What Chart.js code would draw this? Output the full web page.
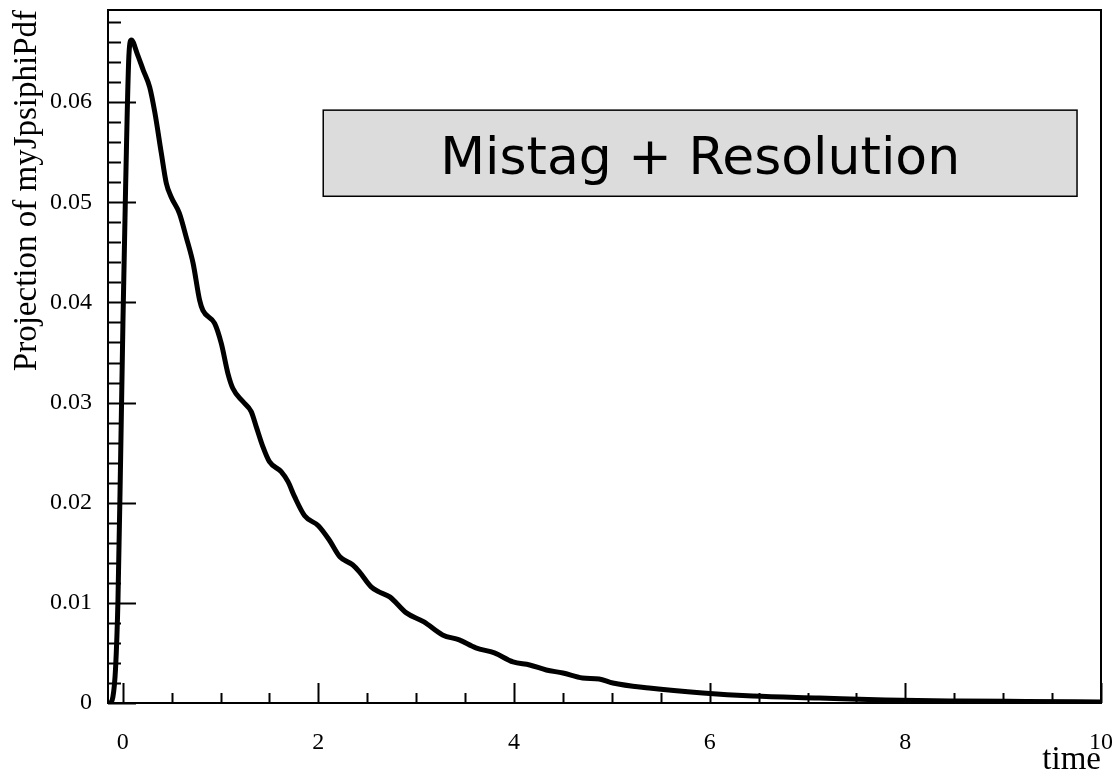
<!DOCTYPE html>
<html>
<head>
<meta charset="utf-8">
<script src="https://cdn.jsdelivr.net/npm/chart.js@4"></script>
<style>
  html, body { margin: 0; padding: 0; background: #ffffff; }
  #wrap { width: 1112px; height: 775px; }
</style>
</head>
<body>
<div id="wrap"><canvas id="pdf"></canvas></div>
<script>
// projected pdf
const times = [
  -0.15, -0.133, -0.10, -0.072, -0.048, -0.02, 0.003, 0.03, 0.065, 0.089,
  0.15, 0.21, 0.276, 0.33, 0.395, 0.446, 0.497, 0.58, 0.65, 0.72,
  0.787, 0.82, 0.94, 1.008, 1.076, 1.127, 1.229, 1.314, 1.365, 1.433,
  1.50, 1.62, 1.69, 1.757, 1.86, 2.0, 2.11, 2.22, 2.35, 2.42,
  2.54, 2.62, 2.73, 2.90, 3.08, 3.27, 3.44, 3.61, 3.80, 3.99,
  4.16, 4.33, 4.50, 4.70, 4.87, 5.01, 5.38, 5.93, 6.44, 7.12,
  7.80, 8.55, 9.23, 10.0
];
const pdfValues = [
  0, 0, 0.0006, 0.0036, 0.0103, 0.025, 0.0382, 0.0515, 0.0649, 0.0662,
  0.0648, 0.0632, 0.0615, 0.0589, 0.0549, 0.0519, 0.0505, 0.0489, 0.0465, 0.0439,
  0.0402, 0.0392, 0.0379, 0.0359, 0.0329, 0.0314, 0.0301, 0.0291, 0.0276, 0.0256,
  0.0241, 0.0231, 0.0221, 0.0206, 0.0187, 0.0177, 0.0163, 0.0146, 0.0138, 0.0131,
  0.0116, 0.0111, 0.0106, 0.0090, 0.0081, 0.0068, 0.0063, 0.0055, 0.0050, 0.0041,
  0.0038, 0.0033, 0.0030, 0.0025, 0.0024, 0.0020, 0.0015, 0.0010, 0.0007, 0.0005,
  0.0003, 0.0002, 0.00015, 0.0001
];

const xTickValues = [0, 2, 4, 6, 8, 10];
const yTickValues = [0, 0.01, 0.02, 0.03, 0.04, 0.05, 0.06];
const xTitle = "time";
const yTitle = "Projection of myJpsiphiPdf";
const boxText = "Mistag + Resolution";

const serif = "'Liberation Serif', 'Times New Roman', serif";

// ROOT style frame: inner ticks on left and bottom, plus the text box
const rootFrame = {
  id: "rootFrame",
  afterDatasetsDraw(chart) {
    const ctx = chart.ctx;
    const { left, right, top, bottom } = chart.chartArea;
    const x = chart.scales.x;
    const y = chart.scales.y;

    ctx.save();
    ctx.strokeStyle = "#000";
    ctx.lineWidth = 2;
    ctx.strokeRect(left, top, right - left, bottom - top);

    // y ticks, minor every 0.002
    for (let i = 0; i * 0.002 <= y.max + 1e-9; i++) {
      const py = Math.round(y.getPixelForValue(i * 0.002)) + 0.5;
      const len = i % 5 === 0 ? 28 : 13;
      ctx.beginPath();
      ctx.moveTo(left, py);
      ctx.lineTo(left + len, py);
      ctx.stroke();
    }
    // x ticks, minor every 0.5
    for (let i = 0; i * 0.5 <= x.max + 1e-9; i++) {
      const px = Math.round(x.getPixelForValue(i * 0.5)) + 0.5;
      const len = i % 4 === 0 ? 20 : 10;
      ctx.beginPath();
      ctx.moveTo(px, bottom);
      ctx.lineTo(px, bottom - len);
      ctx.stroke();
    }

    // text box
    const bx0 = x.getPixelForValue(2.05), bx1 = x.getPixelForValue(9.755);
    const by0 = y.getPixelForValue(0.0592), by1 = y.getPixelForValue(0.0506);
    ctx.fillStyle = "#dcdcdc";
    ctx.fillRect(bx0, by0, bx1 - bx0, by1 - by0);
    ctx.lineWidth = 1.5;
    ctx.strokeRect(bx0, by0, bx1 - bx0, by1 - by0);
    ctx.fillStyle = "#000";
    ctx.font = "52px 'DejaVu Sans', sans-serif";
    ctx.textAlign = "center";
    ctx.textBaseline = "alphabetic";
    ctx.fillText(boxText, (bx0 + bx1) / 2, by0 + 64);
    ctx.restore();
  }
};

// keep the plot frame where the layout padding puts it
const noEdgePad = (s) => {
  s.paddingTop = 0; s.paddingBottom = 0;
  s.paddingLeft = 0; s.paddingRight = 0;
};

new Chart(document.getElementById("pdf"), {
  type: "scatter",
  plugins: [rootFrame],
  data: {
    datasets: [{
      data: times.map((t, i) => ({ x: t, y: pdfValues[i] })),
      showLine: true,
      borderColor: "#000",
      borderWidth: 5,
      pointRadius: 0,
      cubicInterpolationMode: "monotone",
      fill: false
    }]
  },
  options: {
    responsive: true,
    maintainAspectRatio: false,
    animation: false,
    layout: { padding: { top: 10, right: 11, left: 0, bottom: 0 } },
    plugins: {
      legend: { display: false },
      tooltip: { enabled: false }
    },
    scales: {
      x: {
        type: "linear",
        min: -0.15,
        max: 10,
        grid: { display: false },
        border: { display: false },
        afterBuildTicks: (s) => { s.ticks = xTickValues.map(v => ({ value: v })); },
        afterFit: (s) => { s.height = 72; noEdgePad(s); },
        ticks: {
          color: "#000",
          padding: 17,
          maxRotation: 0,
          autoSkip: false,
          font: { family: serif, size: 24 },
          callback: (v) => String(v)
        },
        title: {
          display: true,
          text: xTitle,
          align: "end",
          color: "#000",
          padding: 0,
          font: { family: serif, size: 33, lineHeight: 0.9 }
        }
      },
      y: {
        min: 0,
        max: 0.0692,
        grid: { display: false },
        border: { display: false },
        afterBuildTicks: (s) => { s.ticks = yTickValues.map(v => ({ value: v })); },
        afterFit: (s) => { s.width = 108; noEdgePad(s); },
        ticks: {
          color: "#000",
          padding: 8,
          autoSkip: false,
          font: { family: serif, size: 24 },
          callback: (v) => v === 0 ? "0" : v.toFixed(2)
        },
        title: {
          display: true,
          text: yTitle,
          align: "end",
          color: "#000",
          padding: { top: 8, bottom: 0 },
          font: { family: serif, size: 33 }
        }
      }
    }
  }
});
</script>
</body>
</html>
